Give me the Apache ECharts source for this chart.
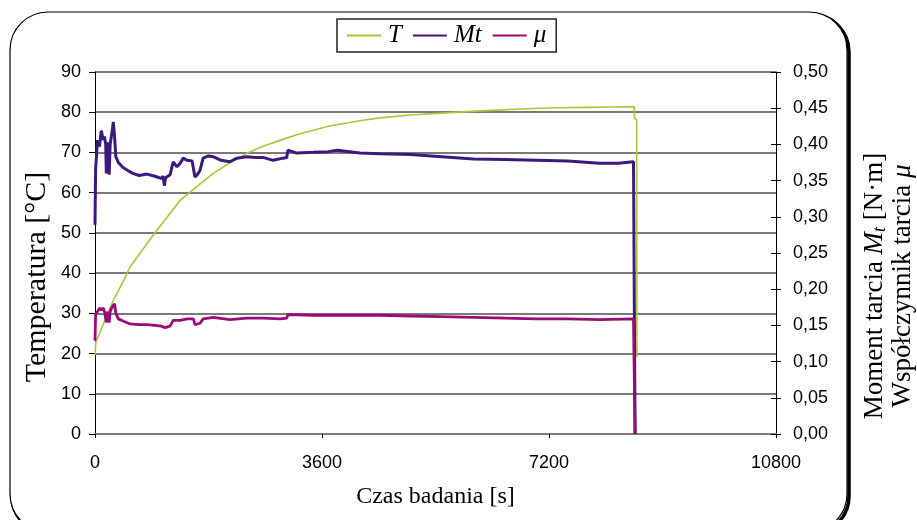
<!DOCTYPE html>
<html>
<head>
<meta charset="utf-8">
<script src="https://cdn.jsdelivr.net/npm/echarts@6/dist/echarts.min.js"></script>
<style>
  html, body { margin: 0; padding: 0; background: #fff; }
  #chart { width: 917px; height: 520px; }
</style>
</head>
<body>
<div id="chart"></div>
<script>
// czas [s] i temperatura [°C]
const tT = [0, 15, 60, 150, 290, 450, 555, 745, 900, 1100, 1350, 1600, 1875, 2150, 2410, 2650, 2935, 3200, 3460, 3700, 3995, 4250, 4520, 5000, 5630, 6200, 6740, 7300, 7800, 8200, 8550, 8555, 8590, 8595];
const T = [19.5, 23, 24.5, 28, 33.2, 38, 41.5, 45.6, 49, 53, 58.1, 61.3, 64.8, 67.5, 69.8, 71.5, 73, 74.4, 75.5, 76.5, 77.3, 78, 78.6, 79.3, 79.9, 80.4, 80.8, 81.1, 81.2, 81.3, 81.4, 78.6, 78, 19];

// moment tarcia Mt [N·m]
const tMt = [0, 10, 40, 70, 100, 130, 150, 170, 180, 190, 210, 225, 240, 270, 290, 310, 330, 370, 445, 520, 600, 700, 825, 950, 1050, 1080, 1100, 1120, 1190, 1240, 1300, 1350, 1400, 1460, 1540, 1560, 1585, 1620, 1665, 1715, 1800, 1875, 2000, 2140, 2250, 2410, 2550, 2665, 2825, 2980, 3040, 3060, 3200, 3460, 3700, 3840, 4200, 4520, 5000, 5500, 6000, 6500, 7000, 7500, 8000, 8300, 8540, 8565];
const Mt = [0.289, 0.367, 0.406, 0.397, 0.419, 0.406, 0.411, 0.400, 0.360, 0.403, 0.394, 0.358, 0.400, 0.417, 0.431, 0.411, 0.383, 0.375, 0.368, 0.364, 0.360, 0.357, 0.359, 0.356, 0.353, 0.356, 0.343, 0.354, 0.358, 0.376, 0.369, 0.374, 0.381, 0.378, 0.377, 0.378, 0.355, 0.358, 0.364, 0.381, 0.384, 0.383, 0.378, 0.376, 0.381, 0.383, 0.382, 0.382, 0.378, 0.381, 0.382, 0.392, 0.388, 0.389, 0.390, 0.392, 0.388, 0.387, 0.386, 0.383, 0.380, 0.379, 0.378, 0.377, 0.374, 0.374, 0.376, 0.0];

// współczynnik tarcia μ
const tMu = [0, 10, 40, 70, 100, 130, 150, 170, 180, 190, 210, 225, 240, 270, 310, 330, 370, 445, 555, 700, 825, 950, 1050, 1110, 1190, 1240, 1350, 1460, 1560, 1585, 1665, 1715, 1875, 2140, 2410, 2665, 2935, 3040, 3060, 3460, 3840, 4520, 5000, 5500, 6000, 6500, 7000, 7500, 8000, 8540, 8565];
const mu = [0.129, 0.166, 0.169, 0.174, 0.171, 0.174, 0.169, 0.167, 0.154, 0.169, 0.167, 0.154, 0.169, 0.175, 0.180, 0.167, 0.159, 0.156, 0.152, 0.151, 0.151, 0.150, 0.149, 0.147, 0.149, 0.157, 0.157, 0.159, 0.159, 0.151, 0.153, 0.159, 0.161, 0.158, 0.160, 0.160, 0.159, 0.160, 0.165, 0.164, 0.164, 0.164, 0.163, 0.162, 0.161, 0.160, 0.159, 0.159, 0.158, 0.159, 0.0];

const xTicks = [0, 3600, 7200, 10800];
const leftTicks = [0, 10, 20, 30, 40, 50, 60, 70, 80, 90];
const rightTicks = [0, 0.05, 0.1, 0.15, 0.2, 0.25, 0.3, 0.35, 0.4, 0.45, 0.5];

const zip = (xs, ys) => xs.map((x, i) => [x, ys[i]]);
const sans = 'Liberation Sans';
const serif = 'Liberation Serif';

const chart = echarts.init(document.getElementById('chart'));
const option = {
  animation: false,
  backgroundColor: '#fff',
  graphic: [
    {
      type: 'rect', z: -10, silent: true,
      shape: { x: 12, y: 14, width: 837, height: 520, r: 38 },
      style: { fill: 'none', stroke: '#000', lineWidth: 3.5 }
    },
    {
      type: 'rect', z: -9, silent: true,
      shape: { x: 10, y: 12, width: 837, height: 520, r: 38 },
      style: { fill: '#fff', stroke: '#000', lineWidth: 1.2 }
    },
    {
      // tytuł lewej osi
      type: 'text', silent: true,
      x: 37, y: 277, rotation: Math.PI / 2,
      style: {
        text: 'Temperatura [°C]',
        fontFamily: serif, fontSize: 30, fill: '#000',
        align: 'center', verticalAlign: 'middle'
      }
    },
    {
      // tytuł prawej osi (dwie linie)
      type: 'text', silent: true,
      x: 889, y: 286, rotation: Math.PI / 2,
      style: {
        text: '{n|Moment tarcia }{i|M}{s|t}{n| [N·m]}\n{n|Współczynnik tarcia }{i|μ}',
        fill: '#000', align: 'center', verticalAlign: 'middle',
        rich: {
          n: { fontFamily: serif, fontSize: 27, lineHeight: 28 },
          i: { fontFamily: serif, fontSize: 27, fontStyle: 'italic', lineHeight: 28 },
          s: { fontFamily: serif, fontSize: 18, fontStyle: 'italic', lineHeight: 28, padding: [10, 0, 0, 0] }
        }
      }
    }
  ],
  legend: {
    left: 337, top: 19,
    padding: [4, 10, 4, 10],
    itemGap: 11,
    itemWidth: 34,
    itemHeight: 2,
    icon: 'rect',
    borderColor: '#222',
    borderWidth: 1.5,
    textStyle: { fontFamily: serif, fontStyle: 'italic', fontSize: 25, color: '#000', padding: [0, 0, 0, 2] },
    data: ['T', 'Mt', 'μ']
  },
  grid: { left: 95, right: 141, top: 72, bottom: 86, outerBoundsMode: 'none' },
  xAxis: {
    type: 'value',
    min: xTicks[0], max: xTicks[xTicks.length - 1], interval: 3600,
    name: 'Czas badania [s]',
    nameLocation: 'middle',
    nameGap: 51,
    nameTextStyle: { fontFamily: serif, fontSize: 24, color: '#000' },
    axisLine: { show: true, lineStyle: { color: '#7a7a7a', width: 2 } },
    axisTick: { show: true, length: 4, lineStyle: { color: '#000' } },
    axisLabel: { margin: 20, fontFamily: sans, fontSize: 18, color: '#000', formatter: v => String(v) },
    splitLine: { show: false }
  },
  yAxis: [
    {
      type: 'value',
      min: leftTicks[0], max: leftTicks[leftTicks.length - 1], interval: 10,
      axisLine: { show: true, lineStyle: { color: '#000', width: 1 } },
      axisTick: { show: true, length: 6, lineStyle: { color: '#000' } },
      axisLabel: { margin: 14, fontFamily: sans, fontSize: 18, color: '#000' },
      splitLine: { show: true, lineStyle: { color: '#7a7a7a', width: 2 } }
    },
    {
      type: 'value',
      position: 'right',
      min: rightTicks[0], max: rightTicks[rightTicks.length - 1], interval: 0.05,
      axisLine: { show: true, lineStyle: { color: '#000', width: 1 } },
      axisTick: { show: true, length: 5, lineStyle: { color: '#000' } },
      axisLabel: {
        margin: 17, fontFamily: sans, fontSize: 18, color: '#000',
        formatter: v => v.toFixed(2).replace('.', ',')
      },
      splitLine: { show: false }
    },
    {
      // wewnętrzne kreski na prawej osi
      type: 'value',
      position: 'right',
      min: rightTicks[0], max: rightTicks[rightTicks.length - 1], interval: 0.05,
      axisLine: { show: false },
      axisTick: { show: true, inside: true, length: 5, lineStyle: { color: '#000' } },
      axisLabel: { show: false },
      splitLine: { show: false }
    }
  ],
  series: [
    {
      name: 'T', type: 'line', yAxisIndex: 0,
      showSymbol: false, symbol: 'none',
      color: '#a8c83c',
      lineStyle: { width: 1.6, color: '#a8c83c' },
      data: zip(tT, T)
    },
    {
      name: 'Mt', type: 'line', yAxisIndex: 1,
      showSymbol: false, symbol: 'none',
      color: '#3b1a80',
      lineStyle: { width: 3, color: '#3b1a80' },
      data: zip(tMt, Mt)
    },
    {
      name: 'μ', type: 'line', yAxisIndex: 1,
      showSymbol: false, symbol: 'none',
      color: '#9b0a78',
      lineStyle: { width: 2.8, color: '#9b0a78' },
      data: zip(tMu, mu)
    }
  ]
};
option && chart.setOption(option);
</script>
</body>
</html>
